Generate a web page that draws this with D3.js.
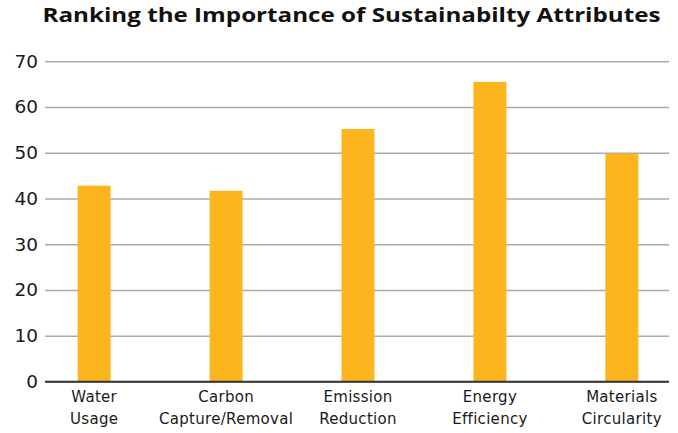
<!DOCTYPE html>
<html>
<head>
<meta charset="utf-8">
<script src="https://cdn.jsdelivr.net/npm/d3@7/dist/d3.min.js"></script>
<style>
  html, body { margin: 0; padding: 0; background: #fff; }
  svg { display: block; }
</style>
</head>
<body>
<svg id="chart" width="678" height="433"></svg>
<script>
// Survey results: importance score per sustainability attribute
const categories = [
  ["Water", "Usage"],
  ["Carbon", "Capture/Removal"],
  ["Emission", "Reduction"],
  ["Energy", "Efficiency"],
  ["Materials", "Circularity"]
];
const scores = [42.8, 41.7, 55.2, 65.5, 49.8];
const yTicks = [0, 10, 20, 30, 40, 50, 60, 70];
const titleText = "Ranking the Importance of Sustainabilty Attributes";

const FONT = "'DejaVu Sans', sans-serif";
const TITLE_FONT = "'Open Sans', 'DejaVu Sans', sans-serif";
const svg = d3.select("#chart");

const plot = { left: 45, right: 669, top: 61.3, bottom: 381.5 };

const keys = categories.map(c => c.join(" "));
const x = d3.scaleBand()
  .domain(keys)
  .range([plot.left + 1, plot.right + 1])
  .paddingInner(0.75)
  .paddingOuter(0.24);

const y = d3.scaleLinear()
  .domain([0, 70])
  .range([plot.bottom, plot.top]);

// Title
svg.append("text")
  .attr("x", 351.5)
  .attr("y", 21.5)
  .attr("text-anchor", "middle")
  .attr("font-family", TITLE_FONT)
  .attr("font-weight", 700)
  .attr("font-size", 20)
  .attr("fill", "#111")
  .attr("textLength", 618)
  .attr("lengthAdjust", "spacingAndGlyphs")
  .text(titleText);

// Y axis with horizontal gridlines
const yAxis = svg.append("g")
  .attr("transform", `translate(${plot.left},0)`)
  .call(d3.axisLeft(y)
    .tickValues(yTicks)
    .tickSize(-(plot.right - plot.left))
    .tickPadding(7)
    .tickFormat(d3.format("d")));
yAxis.select(".domain").remove();
yAxis.selectAll(".tick line")
  .attr("stroke", d => d === 0 ? "#333" : "#ababab")
  .attr("stroke-width", d => d === 0 ? 1.3 : 1.4);
yAxis.selectAll(".tick text")
  .attr("font-family", FONT)
  .attr("font-size", 18.5)
  .attr("fill", "#1a1a1a");

// Bars
svg.append("g")
  .selectAll("rect")
  .data(scores)
  .join("rect")
  .attr("x", (d, i) => x(keys[i]))
  .attr("width", x.bandwidth())
  .attr("y", d => y(d))
  .attr("height", d => y(0) - y(d))
  .attr("fill", "#FDB51D");

// Redraw the zero baseline above the bars
svg.append("line")
  .attr("x1", plot.left).attr("x2", plot.right)
  .attr("y1", y(0)).attr("y2", y(0))
  .attr("stroke", "#333").attr("stroke-width", 1.3);

// Category labels (two lines each)
const labels = svg.append("g")
  .selectAll("text")
  .data(categories)
  .join("text")
  .attr("text-anchor", "middle")
  .attr("font-family", FONT)
  .attr("font-size", 15)
  .attr("letter-spacing", 0.3)
  .attr("fill", "#1a1a1a")
  .attr("transform", (d, i) => `translate(${x(keys[i]) + x.bandwidth() / 2},402)`);
labels.selectAll("tspan")
  .data(d => d)
  .join("tspan")
  .attr("x", 0)
  .attr("y", (d, i) => i * 21.5)
  .text(d => d);
</script>
</body>
</html>
